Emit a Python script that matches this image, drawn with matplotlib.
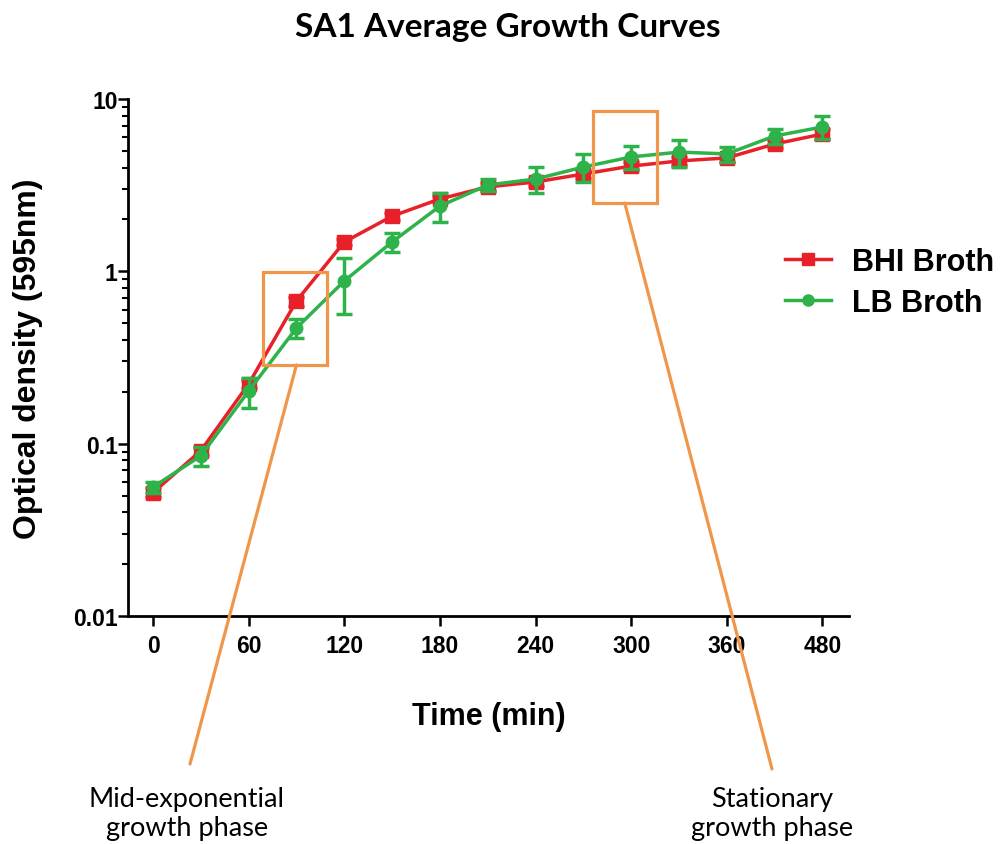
import matplotlib
matplotlib.use('Agg')
import matplotlib.pyplot as plt
from matplotlib.patches import Rectangle
from matplotlib.lines import Line2D
from matplotlib.ticker import FixedLocator, FixedFormatter, LogLocator, NullFormatter

# ---- data ----
time_min = [0, 30, 60, 90, 120, 150, 180, 210, 240, 270, 300, 330, 360, 390, 420]
bhi_od = [0.052, 0.091, 0.222, 0.673, 1.48, 2.09, 2.63, 3.09, 3.30, 3.67, 4.08, 4.37, 4.55, 5.48, 6.26]
bhi_sd = [0.003, 0.005, 0.012, 0.04, 0.06, 0.10, 0.12, 0.15, 0.17, 0.2, 0.22, 0.25, 0.25, 0.3, 0.4]
lb_od = [0.056, 0.085, 0.202, 0.469, 0.879, 1.48, 2.39, 3.17, 3.43, 4.03, 4.61, 4.92, 4.80, 6.10, 6.88]
lb_sd = [0.004, 0.011, 0.04, 0.06, 0.31, 0.19, 0.46, 0.25, 0.58, 0.75, 0.70, 0.90, 0.50, 0.60, 1.05]

x_ticks = [0, 60, 120, 180, 240, 300, 360, 420]
x_tick_labels = ['0', '60', '120', '180', '240', '300', '360', '480']
y_ticks = [0.01, 0.1, 1, 10]
y_tick_labels = ['0.01', '0.1', '1', '10']

red = '#E8202A'
green = '#2DB34A'
orange = '#F0964A'

fig = plt.figure(figsize=(10.03, 8.45), dpi=100)
ax = fig.add_axes([128/1003, 1-617/845, (849-128)/1003, (617-100)/845])

ax.errorbar(time_min, bhi_od, yerr=bhi_sd, color=red, marker='s', ms=10, lw=2.5,
            elinewidth=2.5, capsize=6, capthick=2.5, zorder=3)
ax.errorbar(time_min, lb_od, yerr=lb_sd, color=green, marker='o', ms=9, lw=2.5,
            elinewidth=2.5, capsize=6, capthick=2.5, zorder=4)

ax.set_yscale('log')
ax.set_ylim(0.01, 10)
ax.set_xlim(-15.7, 436.7)

ax.yaxis.set_major_locator(FixedLocator(y_ticks))
ax.yaxis.set_major_formatter(FixedFormatter(y_tick_labels))
ax.yaxis.set_minor_locator(LogLocator(base=10, subs=range(2, 10)))
ax.yaxis.set_minor_formatter(NullFormatter())
ax.xaxis.set_major_locator(FixedLocator(x_ticks))
ax.xaxis.set_major_formatter(FixedFormatter(x_tick_labels))

for s in ['top', 'right']:
    ax.spines[s].set_visible(False)
for s in ['left', 'bottom']:
    ax.spines[s].set_linewidth(2)

ax.tick_params(axis='both', which='major', length=7, width=1.8, direction='out')
ax.tick_params(axis='y', which='minor', length=4, width=1.5, direction='out')
for lab in ax.get_xticklabels() + ax.get_yticklabels():
    lab.set_fontfamily('Liberation Sans')
    lab.set_fontweight('bold')
    lab.set_fontsize(16.5)
ax.tick_params(axis='x', pad=6)
ax.tick_params(axis='y', pad=0.5)

ax.set_xlabel('Time (min)', fontfamily='Liberation Sans', fontweight='bold', fontsize=22)
ax.set_ylabel('Optical density (595nm)', fontfamily='Liberation Sans', fontweight='bold', fontsize=23)
ax.xaxis.set_label_coords(0.5, -0.165)
ax.yaxis.set_label_coords(-0.118, 0.5)

fig.text(508/1003, 1-28/845, 'SA1 Average Growth Curves', ha='center', va='center',
         fontfamily='Lato', fontweight='bold', fontsize=24)

# highlight boxes
ax.add_patch(Rectangle((68.75, 0.286), 109-68.75, 0.99-0.286, fill=False, ec=orange,
                       lw=2.3, clip_on=False, zorder=5))
ax.add_patch(Rectangle((276, 2.49), 316-276, 8.51-2.49, fill=False, ec=orange,
                       lw=2.3, clip_on=False, zorder=5))
ax.annotate('', xy=(90, 0.286), xycoords='data', xytext=(190/1003, 1-765/845),
            textcoords='figure fraction',
            arrowprops=dict(arrowstyle='-', color=orange, lw=2.3, shrinkA=0, shrinkB=0),
            annotation_clip=False, zorder=5)
ax.annotate('', xy=(296, 2.49), xycoords='data', xytext=(772/1003, 1-770/845),
            textcoords='figure fraction',
            arrowprops=dict(arrowstyle='-', color=orange, lw=2.3, shrinkA=0, shrinkB=0),
            annotation_clip=False, zorder=5)

fig.text(187/1003, 1-814/845, 'Mid-exponential\ngrowth phase', ha='center', va='center',
         fontfamily='Lato', fontsize=19.5, linespacing=1.22)
fig.text(772/1003, 1-814/845, 'Stationary\ngrowth phase', ha='center', va='center',
         fontfamily='Lato', fontsize=19.5, linespacing=1.22)

handles = [Line2D([], [], color=red, marker='s', ms=8, lw=2.5),
           Line2D([], [], color=green, marker='o', ms=8, lw=2.5)]
fig.legend(handles, ['BHI Broth', 'LB Broth'], loc='center left',
           bbox_to_anchor=(785/1003, 1-283.5/845), frameon=False,
           borderpad=0, borderaxespad=0, handlelength=1.5, handletextpad=0.7,
           labelspacing=0.35, prop={'family': 'Liberation Sans', 'weight': 'bold', 'size': 22})

fig.savefig('out.png', dpi=100)
